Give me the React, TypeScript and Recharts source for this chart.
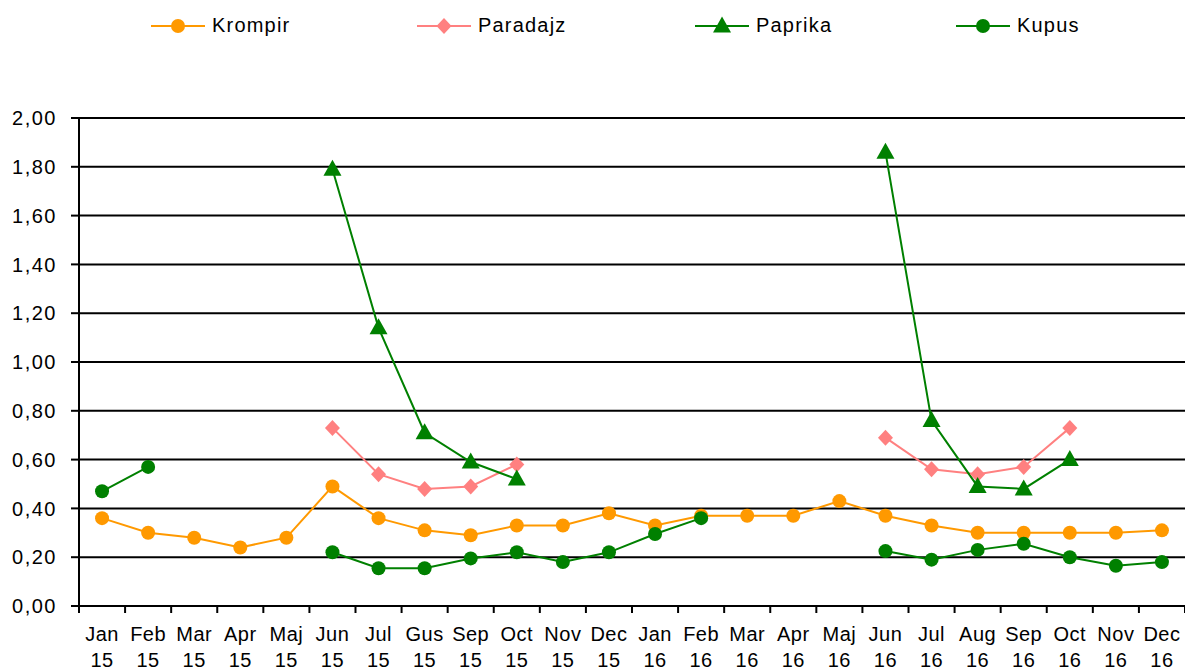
import React from 'react';
import { LineChart, Line, XAxis, YAxis, CartesianGrid } from 'recharts';

const months = ['Jan', 'Feb', 'Mar', 'Apr', 'Maj', 'Jun', 'Jul', 'Gus', 'Sep', 'Oct', 'Nov', 'Dec',
    'Jan', 'Feb', 'Mar', 'Apr', 'Maj', 'Jun', 'Jul', 'Aug', 'Sep', 'Oct', 'Nov', 'Dec'];
const years = ['15', '15', '15', '15', '15', '15', '15', '15', '15', '15', '15', '15',
    '16', '16', '16', '16', '16', '16', '16', '16', '16', '16', '16', '16'];

const krompir = [0.36, 0.30, 0.28, 0.24, 0.28, 0.49, 0.36, 0.31, 0.29, 0.33, 0.33, 0.38,
    0.33, 0.37, 0.37, 0.37, 0.43, 0.37, 0.33, 0.30, 0.30, 0.30, 0.30, 0.31];
const paradajz = [null, null, null, null, null, 0.73, 0.54, 0.48, 0.49, 0.58, null, null,
    null, null, null, null, null, 0.69, 0.56, 0.54, 0.57, 0.73, null, null];
const paprika = [null, null, null, null, null, 1.79, 1.14, 0.71, 0.59, 0.52, null, null,
    null, null, null, null, null, 1.86, 0.76, 0.49, 0.48, 0.60, null, null];
const kupus = [0.47, 0.57, null, null, null, 0.22, 0.155, 0.155, 0.195, 0.22, 0.18, 0.22,
    0.295, 0.36, null, null, null, 0.225, 0.19, 0.23, 0.255, 0.20, 0.165, 0.18];

const yTicks = [0, 0.2, 0.4, 0.6, 0.8, 1.0, 1.2, 1.4, 1.6, 1.8, 2.0];

const data = months.map((m, i) => ({
    label: m + ' ' + years[i],
    krompir: krompir[i],
    paradajz: paradajz[i],
    paprika: paprika[i],
    kupus: kupus[i],
}));

const FONT = '"Liberation Sans", Arial, Helvetica, sans-serif';
const ORANGE = '#FF9900';
const PINK = '#FF8080';
const GREEN = '#008000';

const W = 1185;
const H = 670;
const Y_AXIS_W = 79;
const PLOT_W = W - Y_AXIS_W;
const HALF_BAND = PLOT_W / months.length / 2;

type Shape = 'circle' | 'diamond' | 'triangle';

const Marker = ({ cx, cy, shape, color }: { cx: number; cy: number; shape: Shape; color: string }) => {
    if (shape === 'circle') return <circle cx={cx} cy={cy} r={7} fill={color} />;
    if (shape === 'diamond') {
        return <polygon points={`${cx},${cy - 8} ${cx + 7.5},${cy} ${cx},${cy + 8} ${cx - 7.5},${cy}`} fill={color} />;
    }
    return <polygon points={`${cx},${cy - 9.5} ${cx + 9},${cy + 6.5} ${cx - 9},${cy + 6.5}`} fill={color} />;
};

const makeDot = (shape: Shape, color: string) => (props: any) => {
    const { cx, cy, index, value } = props;
    if (cx == null || cy == null || value == null) return <g key={index} />;
    return <Marker key={index} cx={cx} cy={cy} shape={shape} color={color} />;
};

const MonthTick = (props: any) => {
    const { x, y, payload, index } = props;
    const [m, yr] = String(payload.value).split(' ');
    return (
        <g>
            <line x1={x - HALF_BAND} y1={y} x2={x - HALF_BAND} y2={y + 7} stroke="#000" strokeWidth={2} />
            {index === months.length - 1 && (
                <line x1={x + HALF_BAND} y1={y} x2={x + HALF_BAND} y2={y + 7} stroke="#000" strokeWidth={2} />
            )}
            <text x={x} y={y} textAnchor="middle" fontFamily={FONT} fontSize={20} fill="#000" letterSpacing={0.5}>
                <tspan x={x} dy={35}>{m}</tspan>
                <tspan x={x} dy={26}>{yr}</tspan>
            </text>
        </g>
    );
};

const legendItems: { name: string; color: string; shape: Shape; left: number }[] = [
    { name: 'Krompir', color: ORANGE, shape: 'circle', left: 151 },
    { name: 'Paradajz', color: PINK, shape: 'diamond', left: 417 },
    { name: 'Paprika', color: GREEN, shape: 'triangle', left: 695 },
    { name: 'Kupus', color: GREEN, shape: 'circle', left: 956 },
];

const App: React.FC = () => {
    return (
        <div style={{ position: 'absolute', left: 0, top: 0, width: W, height: H, background: '#fff' }}>
            {legendItems.map((it) => (
                <div key={it.name} style={{
                    position: 'absolute', top: 14, left: it.left, display: 'flex', alignItems: 'center', gap: 7,
                    fontFamily: FONT, fontSize: 20, letterSpacing: 1.2, color: '#000', whiteSpace: 'nowrap',
                }}>
                    <svg width={54} height={20}>
                        <line x1={0} y1={10} x2={54} y2={10} stroke={it.color} strokeWidth={2} />
                        <Marker cx={27} cy={10} shape={it.shape} color={it.color} />
                    </svg>
                    <span>{it.name}</span>
                </div>
            ))}
            <LineChart width={W} height={H} data={data} margin={{ top: 118, right: 0, bottom: 0, left: 0 }}>
                <CartesianGrid vertical={false} stroke="#000" strokeWidth={2} />
                <XAxis
                    dataKey="label"
                    interval={0}
                    height={64}
                    padding={{ left: HALF_BAND, right: HALF_BAND }}
                    axisLine={{ stroke: '#000', strokeWidth: 2 }}
                    tickLine={false}
                    tickSize={0}
                    tickMargin={0}
                    tick={<MonthTick />}
                />
                <YAxis
                    width={Y_AXIS_W}
                    domain={[0, 2]}
                    ticks={yTicks}
                    interval={0}
                    axisLine={{ stroke: '#000', strokeWidth: 2 }}
                    tickLine={{ stroke: '#000', strokeWidth: 2 }}
                    tickSize={8}
                    tickMargin={14}
                    tickFormatter={(v: number) => v.toFixed(2).replace('.', ',')}
                    tick={{ fill: '#000', fontSize: 20, fontFamily: FONT, letterSpacing: 1.5 }}
                />
                <Line type="linear" dataKey="krompir" stroke={ORANGE} strokeWidth={2}
                    dot={makeDot('circle', ORANGE)} activeDot={false} isAnimationActive={false} />
                <Line type="linear" dataKey="paradajz" stroke={PINK} strokeWidth={2}
                    dot={makeDot('diamond', PINK)} activeDot={false} isAnimationActive={false} />
                <Line type="linear" dataKey="paprika" stroke={GREEN} strokeWidth={2}
                    dot={makeDot('triangle', GREEN)} activeDot={false} isAnimationActive={false} />
                <Line type="linear" dataKey="kupus" stroke={GREEN} strokeWidth={2}
                    dot={makeDot('circle', GREEN)} activeDot={false} isAnimationActive={false} />
            </LineChart>
        </div>
    );
};

export default App;
